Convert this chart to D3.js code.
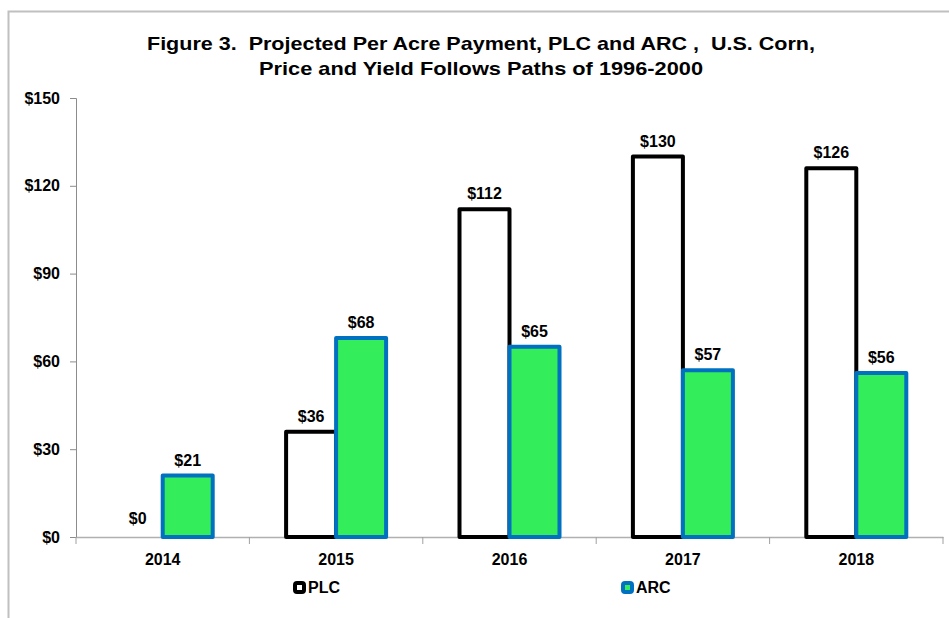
<!DOCTYPE html>
<html>
<head>
<meta charset="utf-8">
<script src="https://cdn.jsdelivr.net/npm/d3@7"></script>
<style>
  body { margin: 0; background: #fff; }
  text { font-family: "Liberation Sans", Arial, sans-serif; font-weight: bold; fill: #000; }
  .title { white-space: pre; }
</style>
</head>
<body>
<svg id="chart" width="949" height="618"></svg>
<script>
const years = ['2014', '2015', '2016', '2017', '2018'];
const plcValues = [0, 36, 112, 130, 126];
const arcValues = [21, 68, 65, 57, 56];
const yTicks = [0, 30, 60, 90, 120, 150];
const titleLines = [
  'Figure 3.  Projected Per Acre Payment, PLC and ARC ,  U.S. Corn,',
  'Price and Yield Follows Paths of 1996-2000'
];

const svg = d3.select('#chart');

// outer frame (only left and top edges visible)
svg.append('rect')
  .attr('x', 8.5).attr('y', 11.5)
  .attr('width', 960).attr('height', 640)
  .attr('fill', 'none')
  .attr('stroke', '#c0c0c0')
  .attr('stroke-width', 2);

// title
svg.selectAll('.title').data(titleLines).enter()
  .append('text')
  .attr('class', 'title')
  .attr('xml:space', 'preserve')
  .attr('x', 481)
  .attr('y', (d, i) => 50 + i * 25)
  .attr('text-anchor', 'middle')
  .attr('font-size', '19px')
  .attr('textLength', (d, i) => i == 0 ? 668 : 444)
  .attr('lengthAdjust', 'spacingAndGlyphs')
  .text(d => d);

const x = d3.scaleBand().domain(years).range([76, 943]);
const y = d3.scaleLinear().domain([0, 150]).range([537, 98]);
const barW = 50;

// y axis
const yAxis = svg.append('g')
  .attr('transform', 'translate(76,0)')
  .call(d3.axisLeft(y).tickValues(yTicks).tickSize(6).tickPadding(10).tickFormat(d => '$' + d));
yAxis.select('.domain').attr('stroke', '#8c8c8c');
yAxis.selectAll('.tick line').attr('stroke', '#8c8c8c');
yAxis.selectAll('.tick text')
  .attr('font-size', '16px')
  .attr('font-family', '"Liberation Sans", Arial, sans-serif')
  .attr('font-weight', 'bold')
  .attr('fill', '#000');

// x axis
const xAxis = svg.append('g')
  .attr('transform', 'translate(0,537)')
  .call(d3.axisBottom(x).tickSize(0).tickPadding(17));
xAxis.select('.domain').attr('stroke', '#b0b0b0').attr('stroke-width', 1.5);
xAxis.selectAll('.tick text')
  .attr('font-size', '16px')
  .attr('font-family', '"Liberation Sans", Arial, sans-serif')
  .attr('font-weight', 'bold')
  .attr('fill', '#000');

// category boundary ticks
const bounds = years.map(d => x(d)).concat([x(years[years.length - 1]) + x.bandwidth()]);
svg.append('g').selectAll('line').data(bounds).enter()
  .append('line')
  .attr('x1', d => d).attr('x2', d => d)
  .attr('y1', 537).attr('y2', 544)
  .attr('stroke', '#a0a0a0');

const center = d => x(d) + x.bandwidth() / 2;

// PLC bars
svg.append('g').selectAll('rect').data(years).enter()
  .append('rect')
  .attr('x', d => center(d) - barW)
  .attr('y', (d, i) => y(plcValues[i]))
  .attr('width', barW)
  .attr('height', (d, i) => y(0) - y(plcValues[i]))
  .attr('fill', '#fff')
  .attr('stroke', '#000')
  .attr('stroke-width', (d, i) => plcValues[i] > 0 ? 4 : 0)
  .attr('stroke-linejoin', 'round');

// ARC bars
svg.append('g').selectAll('rect').data(years).enter()
  .append('rect')
  .attr('x', d => center(d))
  .attr('y', (d, i) => y(arcValues[i]))
  .attr('width', barW)
  .attr('height', (d, i) => y(0) - y(arcValues[i]))
  .attr('fill', '#33ed5a')
  .attr('stroke', '#0070c0')
  .attr('stroke-width', 4)
  .attr('stroke-linejoin', 'round');

// value labels
svg.append('g').selectAll('text').data(years).enter()
  .append('text')
  .attr('x', d => center(d) - barW / 2)
  .attr('y', (d, i) => y(plcValues[i]) - (plcValues[i] > 0 ? 10 : 13))
  .attr('text-anchor', 'middle')
  .attr('font-size', '16px')
  .text((d, i) => '$' + plcValues[i]);

svg.append('g').selectAll('text').data(years).enter()
  .append('text')
  .attr('x', d => center(d) + barW / 2)
  .attr('y', (d, i) => y(arcValues[i]) - 10)
  .attr('text-anchor', 'middle')
  .attr('font-size', '16px')
  .text((d, i) => '$' + arcValues[i]);

// legend
const legendItems = [
  { name: 'PLC', x: 293, fill: '#fff', stroke: '#000' },
  { name: 'ARC', x: 621, fill: '#33ed5a', stroke: '#0070c0' }
];
const lg = svg.append('g').selectAll('g').data(legendItems).enter()
  .append('g')
  .attr('transform', d => `translate(${d.x},581)`);
lg.append('rect')
  .attr('x', 2).attr('y', 2)
  .attr('width', 9).attr('height', 9)
  .attr('rx', 2)
  .attr('fill', d => d.fill)
  .attr('stroke', d => d.stroke)
  .attr('stroke-width', 4);
lg.append('text')
  .attr('x', 15).attr('y', 12)
  .attr('font-size', '16px')
  .text(d => d.name);
</script>
</body>
</html>
